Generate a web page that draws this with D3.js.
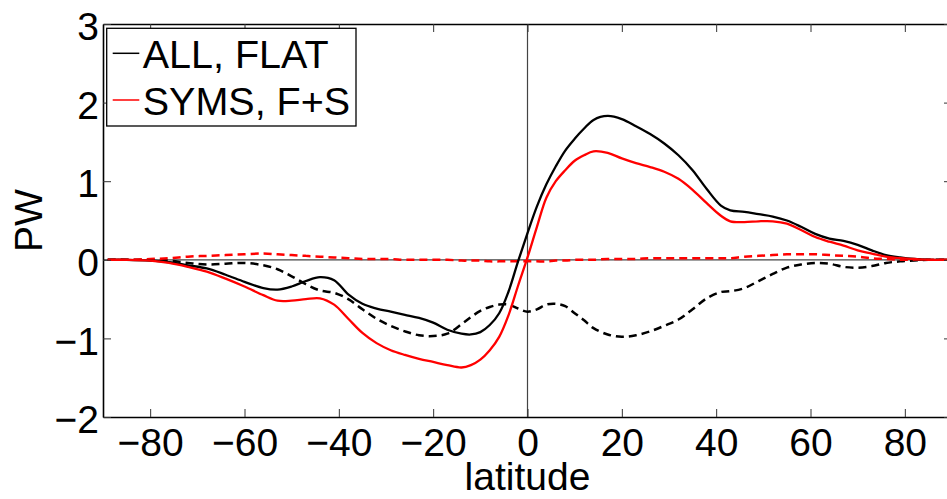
<!DOCTYPE html>
<html>
<head>
<meta charset="utf-8">
<script src="https://cdn.jsdelivr.net/npm/d3@7"></script>
<style>
  body { margin: 0; background: #fff; }
  svg text { font-family: "Liberation Sans", Arial, Helvetica, sans-serif; }
</style>
</head>
<body>
<svg></svg>
<script>
// latitude grid (deg)
const latitude = [-89, -85, -80, -76, -72, -68, -64, -60, -56, -53, -50, -47, -44, -41, -38, -35, -32, -29, -26, -23,
    -20, -17, -14, -12, -10, -8, -6, -4, -2, 0, 2, 4, 6, 8, 10, 12, 14, 17, 20, 23,
    26, 29, 32, 35, 38, 41, 43, 46, 49, 52, 55, 58, 61, 64, 67, 70, 73, 76, 79, 82, 85, 89];

// ALL, FLAT (black solid)
const allFlat = [0, 0, -0.01, -0.03, -0.07, -0.11, -0.19, -0.28, -0.36, -0.38, -0.34, -0.27, -0.22, -0.26, -0.44, -0.56, -0.62, -0.66, -0.70, -0.74,
    -0.80, -0.89, -0.94, -0.95, -0.92, -0.83, -0.68, -0.40, -0.02, 0.34, 0.68, 0.96, 1.19, 1.39, 1.54, 1.67, 1.78, 1.83, 1.79, 1.70,
    1.60, 1.48, 1.33, 1.14, 0.90, 0.69, 0.63, 0.61, 0.58, 0.55, 0.50, 0.42, 0.33, 0.27, 0.24, 0.19, 0.12, 0.06, 0.03, 0.01, 0, 0];

// SYMS, F+S (red solid)
const symsFS = [0, 0, -0.01, -0.04, -0.09, -0.15, -0.24, -0.34, -0.45, -0.52, -0.52, -0.50, -0.49, -0.57, -0.75, -0.93, -1.06, -1.15, -1.21, -1.26,
    -1.30, -1.34, -1.37, -1.34, -1.27, -1.15, -0.98, -0.70, -0.33, 0.03, 0.42, 0.79, 1.00, 1.14, 1.26, 1.33, 1.38, 1.36, 1.29, 1.23,
    1.18, 1.12, 1.03, 0.89, 0.72, 0.56, 0.49, 0.48, 0.49, 0.49, 0.46, 0.38, 0.29, 0.23, 0.18, 0.12, 0.08, 0.04, 0.02, 0.01, 0, 0];

// black dashed
const allFlatDashed = [0, 0, 0, -0.01, -0.04, -0.06, -0.05, -0.04, -0.07, -0.12, -0.21, -0.31, -0.39, -0.42, -0.50, -0.63, -0.75, -0.84, -0.91, -0.96,
    -0.97, -0.94, -0.82, -0.73, -0.65, -0.60, -0.57, -0.57, -0.62, -0.66, -0.63, -0.57, -0.56, -0.59, -0.68, -0.77, -0.87, -0.95, -0.98, -0.96,
    -0.91, -0.84, -0.76, -0.63, -0.49, -0.41, -0.40, -0.36, -0.27, -0.18, -0.10, -0.06, -0.04, -0.05, -0.09, -0.10, -0.08, -0.04, -0.02, -0.01, 0, 0];

// red dashed
const symsDashed = [0, 0, 0.01, 0.02, 0.04, 0.05, 0.06, 0.07, 0.08, 0.07, 0.06, 0.05, 0.04, 0.03, 0.02, 0.01, 0.01, 0.01, 0, 0,
    0, 0, -0.01, -0.01, -0.01, -0.02, -0.02, -0.02, -0.02, -0.02, -0.02, -0.02, -0.01, -0.01, 0, 0, 0, 0.01, 0.01, 0.01,
    0.02, 0.02, 0.02, 0.02, 0.02, 0.02, 0.02, 0.04, 0.05, 0.06, 0.07, 0.07, 0.07, 0.06, 0.05, 0.04, 0.02, 0.01, 0, 0, 0, 0];

const xTicks = [-80, -60, -40, -20, 0, 20, 40, 60, 80];
const yTicks = [-2, -1, 0, 1, 2, 3];
const legendLabels = ['ALL, FLAT', 'SYMS, F+S'];

const WIDTH = 947;
const HEIGHT = 499;
const FONT = 39;

const svg = d3.select('svg')
    .attr('width', WIDTH)
    .attr('height', HEIGHT);

// plot box (right edge runs off the picture, like the reference)
const box = {left: 103, right: 952, top: 24, bottom: 417};

const x = d3.scaleLinear().domain([-90, 90]).range([box.left, box.right]);
const y = d3.scaleLinear().domain([-2, 3]).range([box.bottom, box.top]);

// zero lines
svg.append('line')
    .attr('x1', box.left).attr('x2', box.right)
    .attr('y1', y(0)).attr('y2', y(0))
    .attr('stroke', '#444').attr('stroke-width', 1.2);
svg.append('line')
    .attr('x1', x(0)).attr('x2', x(0))
    .attr('y1', box.top).attr('y2', box.bottom)
    .attr('stroke', '#444').attr('stroke-width', 1.2);

// curves
const series = [
    {values: allFlatDashed, color: '#000', dash: '8,5'},
    {values: symsDashed, color: '#ff0000', dash: '8,5'},
    {values: allFlat, color: '#000', dash: null},
    {values: symsFS, color: '#ff0000', dash: null}
];

const line = d3.line()
    .x(d => x(d[0]))
    .y(d => y(d[1]))
    .curve(d3.curveCatmullRom.alpha(0.5));

svg.append('g').selectAll('path')
    .data(series)
    .enter()
    .append('path')
    .attr('d', s => line(latitude.map((lat, i) => [lat, s.values[i]])))
    .attr('fill', 'none')
    .attr('stroke', s => s.color)
    .attr('stroke-width', s => s.dash ? 2.5 : 2.3)
    .attr('stroke-dasharray', s => s.dash);

// axes, ticks pointing inwards
function styleAxis(g) {
    g.select('.domain').attr('stroke', '#000').attr('stroke-width', 1.6);
    g.selectAll('.tick line').attr('stroke', '#333').attr('stroke-width', 1);
    g.selectAll('.tick text')
        .attr('fill', '#000')
        .style('font-size', FONT + 'px');
}

const fmt = d3.format('d');

svg.append('g')
    .attr('transform', `translate(0,${box.bottom})`)
    .call(d3.axisBottom(x).tickValues(xTicks).tickFormat(fmt).tickSizeInner(-8).tickSizeOuter(0).tickPadding(11))
    .call(styleAxis);

svg.append('g')
    .attr('transform', `translate(0,${box.top})`)
    .call(d3.axisTop(x).tickValues(xTicks).tickSizeInner(-8).tickSizeOuter(0).tickFormat(''))
    .call(styleAxis);

const left = svg.append('g')
    .attr('transform', `translate(${box.left},0)`)
    .call(d3.axisLeft(y).tickValues(yTicks).tickFormat(fmt).tickSizeInner(-8).tickSizeOuter(0).tickPadding(4))
    .call(styleAxis);
left.selectAll('.tick text').attr('dy', '0.4em');

svg.append('g')
    .attr('transform', `translate(${box.right},0)`)
    .call(d3.axisRight(y).tickValues(yTicks).tickSizeInner(-8).tickSizeOuter(0).tickFormat(''))
    .call(styleAxis);

// axis labels
svg.append('text')
    .attr('x', x(0)).attr('y', 490)
    .attr('text-anchor', 'middle')
    .style('font-size', FONT + 'px')
    .text('latitude');

svg.append('text')
    .attr('transform', `translate(41.5,${(box.top + box.bottom) / 2}) rotate(-90)`)
    .attr('text-anchor', 'middle')
    .style('font-size', FONT + 'px')
    .text('PW');

// legend
const legend = svg.append('g');
legend.append('rect')
    .attr('x', 106.7).attr('y', 28.3)
    .attr('width', 249.3).attr('height', 97.7)
    .attr('fill', '#fff')
    .attr('stroke', '#000').attr('stroke-width', 1.3);

const legendColors = ['#000', '#ff0000'];
legendLabels.forEach((label, i) => {
    const cy = 53.3 + i * 46.7;
    legend.append('line')
        .attr('x1', 112.7).attr('x2', 139.3)
        .attr('y1', cy).attr('y2', cy)
        .attr('stroke', legendColors[i]).attr('stroke-width', 1.5);
    legend.append('text')
        .attr('x', 142.7).attr('y', cy + 15)
        .style('font-size', '39.5px')
        .text(label);
});
</script>
</body>
</html>
